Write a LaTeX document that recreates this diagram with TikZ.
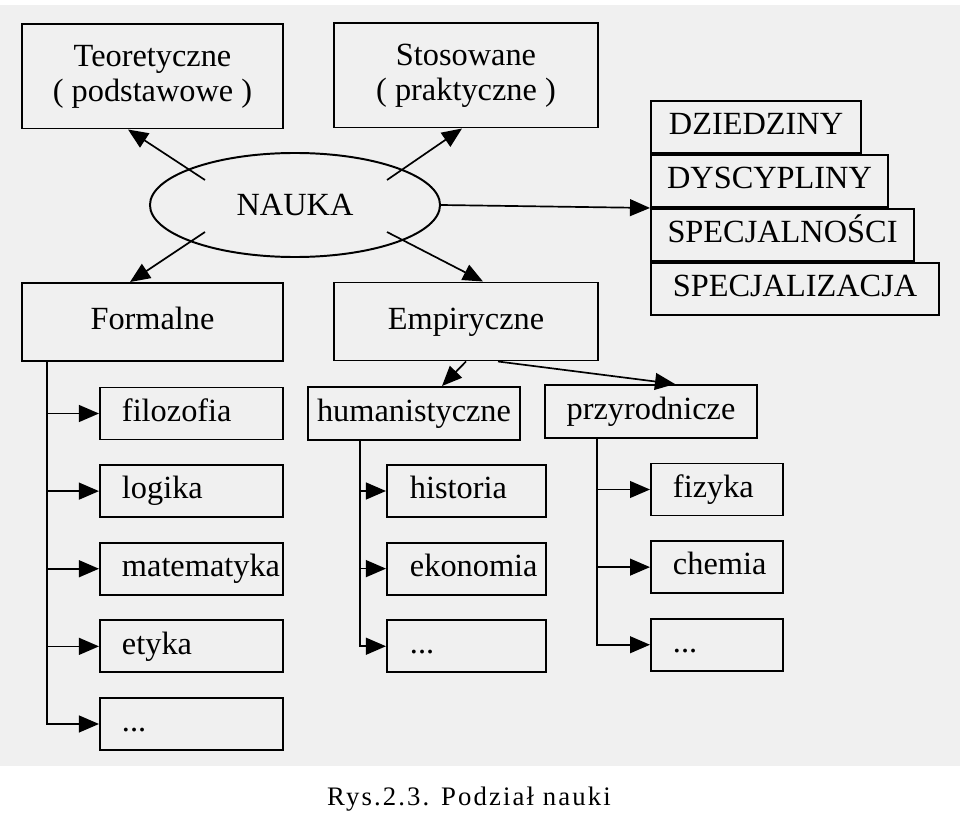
\documentclass[tikz,border=0pt]{standalone}
\usepackage{fontspec}
\setmainfont{Liberation Serif}
\usetikzlibrary{arrows.meta,positioning,calc,shapes.geometric}

\begin{document}
\begin{tikzpicture}[x=0.025cm,y=-0.025cm,node distance=1.94cm,on grid,
    font=\fontsize{23}{25}\selectfont,
    box/.style={draw,line width=1.4pt,inner sep=0pt},
    main/.style={box,minimum width=6.525cm,align=center},
    line/.style={text height=16pt,text depth=5pt},
    item/.style={box,line,minimum height=1.3cm,align=left},
    layer/.style={box,line,minimum height=1.3cm,anchor=north west},
    arr/.style={-{Triangle[length=0.5cm,width=0.42cm]},line width=1.2pt}]
   \useasboundingbox (0,0) rectangle (960,827);
   \fill[black!6] (0,5) rectangle (960,766);

   % top level
   \node[ellipse,draw,line width=1.4pt,minimum width=7.25cm,minimum height=2.6cm,inner sep=0pt] (nauka) at (295,205) {NAUKA};
   \node[main,minimum height=2.6cm] (teor) at (152.5,76.5) {Teoretyczne\\( podstawowe )};
   \node[main,minimum width=6.6cm,minimum height=2.6cm] (stos) at (466,75.5) {Stosowane\\( praktyczne )};
   \node[main,line,minimum height=1.95cm] (form) at (152.5,322) {Formalne};
   \node[main,line,minimum width=6.6cm,minimum height=1.95cm] (emp) at (466,321.5) {Empiryczne};

   % stack
   \node[layer,minimum width=5.25cm] (dzie) at (650,100) {DZIEDZINY};
   \node[layer,minimum width=5.925cm] (dysc) at (dzie.south west) {DYSCYPLINY};
   \node[layer,minimum width=6.575cm] (spec) at (dysc.south west) {SPECJALNOŚCI};
   \node[layer,minimum width=7.2cm] (spez) at (spec.south west) {SPECJALIZACJA};

   % formalne
   \node[item,text width=3.475cm,inner xsep=0.55cm] (filo) at (191.5,413.5) {filozofia};
   \node[item,text width=3.475cm,inner xsep=0.55cm] (logi) [below=of filo] {logika};
   \node[item,text width=3.475cm,inner xsep=0.55cm] (mate) [below=of logi] {matematyka};
   \node[item,text width=3.475cm,inner xsep=0.55cm] (etyk) [below=of mate] {etyka};
   \node[item,text width=3.475cm,inner xsep=0.55cm] (fdot) [below=of etyk] {...};

   % empiryczne
   \node[box,line,minimum width=5.3cm,minimum height=1.325cm] (huma) at (414,413.5) {humanistyczne};
   \node[box,line,minimum width=5.3cm,minimum height=1.325cm] (przy) at (651,411.5) {przyrodnicze};
   \node[item,text width=2.825cm,inner xsep=0.575cm] (hist) at (466.5,491) {historia};
   \node[item,text width=2.825cm,inner xsep=0.575cm] (ekon) [below=of hist] {ekonomia};
   \node[item,text width=2.825cm,inner xsep=0.575cm] (hdot) [below=of ekon] {...};
   \node[item,text width=2.2cm,inner xsep=0.55cm] (fizy) at (717,489.5) {fizyka};
   \node[item,text width=2.2cm,inner xsep=0.55cm] (chem) [below=of fizy] {chemia};
   \node[item,text width=2.2cm,inner xsep=0.55cm] (pdot) [below=of chem] {...};

   \node[anchor=base,font=\fontsize{19}{22}\selectfont\addfontfeature{LetterSpace=8}] (capt) at (469,805) {Rys.2.3. Podział nauki};

   % connectors
   \draw[arr] ($(nauka.center)+(-90,-25)$) -- ($(teor.south)+(-24.5,0)$);
   \draw[arr] ($(nauka.center)+(92,-25)$) -- ($(stos.south)+(-4,0)$);
   \draw[arr] ($(nauka.center)+(-90,27)$) -- ($(form.north)+(-22.5,0)$);
   \draw[arr] ($(nauka.center)+(92,27)$) -- ($(emp.north)+(17,0)$);
   \draw[arr] (nauka.east) -- (dysc.south west);
   \draw[arr] (emp.south) -- ($(huma.north)+(28,0)$);
   \draw[arr] ($(emp.south)+(32,0)$) -- ($(przy.north)+(24,0)$);

   \foreach \n in {filo,logi,mate,etyk,fdot}
     \draw[arr] ($(form.south west)+(26,0)$) |- (\n.west);
   \foreach \n in {hist,ekon,hdot}
     \draw[arr] ($(huma.south west)+(53,0)$) |- (\n.west);
   \foreach \n in {fizy,chem,pdot}
     \draw[arr] ($(przy.south west)+(53,0)$) |- (\n.west);
\end{tikzpicture}
\end{document}
